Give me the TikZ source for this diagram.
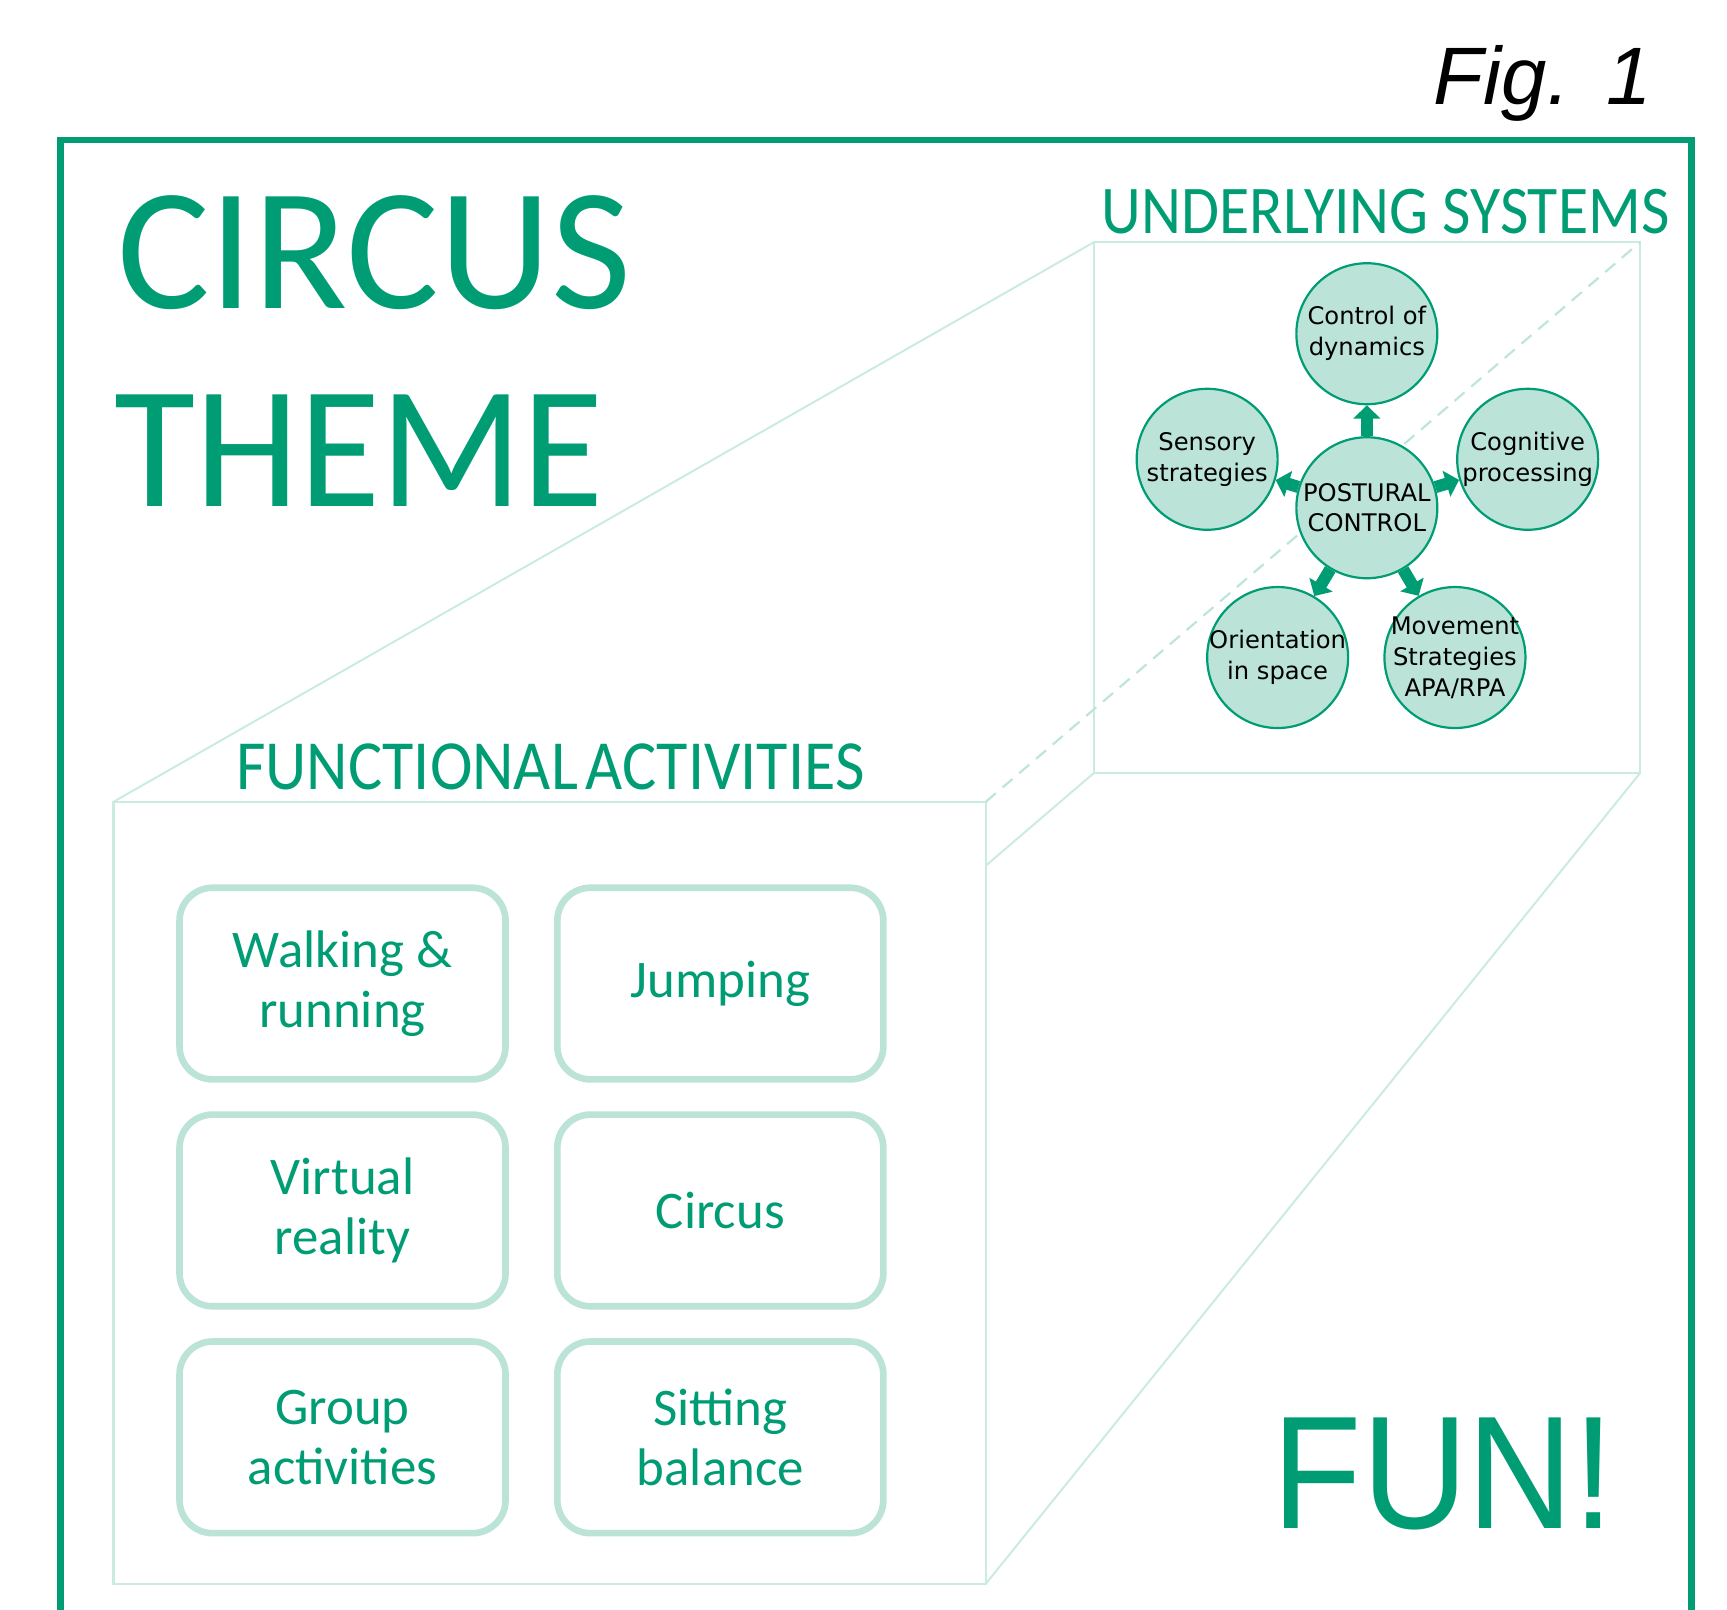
\documentclass[tikz,border=0pt]{standalone}
\usepackage{fontspec}
\setmainfont{Carlito}
\newfontfamily\circfont{DejaVu Sans}
\newfontfamily\figfont{Liberation Sans}
\usetikzlibrary{arrows.meta}
\definecolor{dgreen}{RGB}{0,157,117}
\definecolor{mint}{RGB}{187,227,215}
\definecolor{pale}{RGB}{202,235,225}
\definecolor{dashc}{RGB}{190,229,217}
\begin{document}
\begin{tikzpicture}[x=0.5pt,y=-0.5pt,
  circ/.style={circle, draw=dgreen, line width=1pt, fill=mint, minimum size=64pt, inner sep=0pt},
  circtext/.style={align=center, inner sep=0pt, text=black, font=\circfont\fontsize{11}{14}\selectfont},
  actbox/.style={rectangle, rounded corners=15pt, draw=mint, line width=3pt, fill=white,
    minimum width=148pt, minimum height=87pt, align=center, text=dgreen,
    font=\fontsize{24}{27}\selectfont},
  persp/.style={draw=pale, line width=0.9pt},
  panel/.style={rectangle, draw=pale, line width=1pt, outer sep=0pt, inner sep=0pt},
  title/.style={text=dgreen, inner sep=0pt},
  arr/.style={draw=dgreen, line width=5.5pt, -{Triangle[width=12pt,length=6pt]}},
]
\useasboundingbox (0,0) rectangle (1568,1461);
% outer frame
\coordinate (fbl) at (55,1470);
\coordinate (ftl) at (55,127);
\coordinate (ftr) at (1536,127);
\coordinate (fbr) at (1536,1470);
\draw[dgreen, line width=3pt] (fbl) -- (ftl) -- (ftr) -- (fbr);
% Fig. 1
\node[anchor=base east, inner sep=0pt, font=\figfont\itshape\fontsize{37}{40}\selectfont] (fig) at (1500,95) {Fig.\hspace{0.45em}1};
% titles
\node[title, anchor=base west, font=\fontsize{79}{80}\selectfont] (circus) at (106,280) {CIRCUS};
\node[title, anchor=base west, font=\fontsize{79}{80}\selectfont] (theme) at (104,460) {\scalebox{0.955}[1]{THEME}};
\node[title, anchor=base west, font=\fontsize{31}{33}\selectfont] (ust) at (1000,212) {\scalebox{0.905}[1]{UNDERLYING SYSTEMS}};
\node[title, anchor=base west, font=\fontsize{32}{34}\selectfont] (fat) at (214,717) {\scalebox{0.91}[1]{FUNCTIONAL\hspace{0.12em}ACTIVITIES}};
\node[title, anchor=base east, font=\figfont\fontsize{73}{75}\selectfont] (fun) at (1466,1388) {\scalebox{0.91}[1]{FUN!}};
% panels
\node[panel, minimum width=396pt, minimum height=355pt] (fa) at (499,1083) {};
\node[panel, minimum width=248pt, minimum height=241pt] (us) at (1241,461) {};
\coordinate (fae) at (895,786);
\draw[persp] (fa.north west) -- (us.north west);
\draw[persp, draw=dashc, line width=1pt, dash pattern=on 6pt off 4pt] (fa.north east) -- (us.north east);
\draw[persp] (fa.south east) -- (us.south east);
\draw[persp] (fae) -- (us.south west);
% circles
\node[circ] (pc) at (1241,461) {};
\node[circ] (cod) at (1241,303) {};
\node[circ] (ss) at (1096,417) {};
\node[circ] (cp) at (1387,417) {};
\node[circ] (ois) at (1160,597) {};
\node[circ] (ms) at (1321,597) {};
\draw[arr] (pc) -- (cod);
\draw[arr] (pc) -- (ss);
\draw[arr] (pc) -- (cp);
\draw[arr] (pc) -- (ois);
\draw[arr] (pc) -- (ms);
\node[circtext] at (pc) {POSTURAL\\CONTROL};
\node[circtext] at (cod) {Control of\\dynamics};
\node[circtext] at (ss) {Sensory\\strategies};
\node[circtext] at (cp) {Cognitive\\processing};
\node[circtext] at (ois) {Orientation\\in space};
\node[circtext] at (ms) {Movement\\Strategies\\APA/RPA};
% activity boxes
\node[actbox] (walk) at (311,893) {Walking \&\\running};
\node[actbox] (jump) at (654,893) {Jumping};
\node[actbox] (vr) at (311,1099) {Virtual\\reality};
\node[actbox] (circ) at (654,1099) {Circus};
\node[actbox] (group) at (311,1305) {Group\\activities};
\node[actbox] (sit) at (654,1305) {Sitting\\balance};
\end{tikzpicture}
\end{document}
